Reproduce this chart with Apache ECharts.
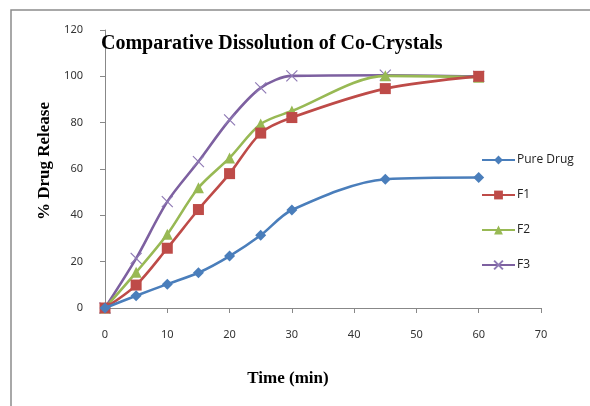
<!DOCTYPE html>
<html>
<head>
<meta charset="utf-8">
<script src="https://cdn.jsdelivr.net/npm/echarts@6/dist/echarts.min.js"></script>
<style>
  html, body { margin: 0; padding: 0; background: #fff; }
  #chart { width: 590px; height: 406px; }
</style>
</head>
<body>
<div id="chart"></div>
<script>
// Sampling times (min) and cumulative % drug release for each formulation
const times = [0, 5, 10, 15, 20, 25, 30, 45, 60];
const pureDrug = [0, 5.3, 10.3, 15.2, 22.4, 31.4, 42.3, 55.6, 56.3];
const f1 = [0, 9.9, 25.8, 42.5, 58.0, 75.5, 82.2, 94.7, 100];
const f2 = [0, 15.4, 31.8, 51.9, 64.8, 79.4, 85.0, 100.2, 99.6];
const f3 = [0, 21.4, 45.9, 63.2, 81.2, 95.0, 100.2, 100.5, 100];
const seriesNames = ['Pure Drug', 'F1', 'F2', 'F3'];
const xTicks = { min: 0, max: 70, step: 10 };
const yTicks = { min: 0, max: 120, step: 20 };

const colors = ['#4a7ebb', '#be4b48', '#98b954', '#7d60a0'];
const crossPath = 'path://M0,0L10,10M10,0L0,10';

function pairs(ys) { return times.map((t, i) => [t, ys[i]]); }

const values = [pureDrug, f1, f2, f3];
const symbols = ['diamond', 'rect', 'triangle', crossPath];
const sizes = [11, 11, 11, 11];

const series = values.map((ys, i) => ({
  name: seriesNames[i],
  type: 'line',
  data: pairs(ys),
  smooth: 0.3,
  symbol: symbols[i],
  symbolSize: sizes[i],
  showAllSymbol: true,
  z: 2 + (3 - i),
  lineStyle: { color: colors[i], width: 2.6 },
  itemStyle: i === 3
    ? { color: 'rgba(0,0,0,0)', borderColor: '#8f7ab5', borderWidth: 1.2 }
    : { color: colors[i], borderColor: colors[i], borderWidth: 0 }
}));

const chart = echarts.init(document.getElementById('chart'), null, { renderer: 'canvas' });
chart.setOption({
  animation: false,
  backgroundColor: '#fff',
  color: colors,
  graphic: [{
    type: 'rect',
    shape: { x: 11, y: 10, width: 620, height: 440 },
    style: { fill: 'none', stroke: '#8c8c8c', lineWidth: 1.5 },
    silent: true
  }],
  title: {
    text: 'Comparative Dissolution of Co-Crystals',
    left: 96,
    top: 29,
    textStyle: {
      fontFamily: 'Liberation Serif',
      fontWeight: 'bold',
      fontSize: 20,
      color: '#000'
    }
  },
  legend: {
    orient: 'vertical',
    left: 476,
    top: 149,
    itemWidth: 33,
    itemHeight: 11,
    itemGap: 23,
    data: seriesNames,
    textStyle: { fontFamily: 'Open Sans', fontSize: 12, color: '#222', padding: [0, 0, 0, -3] }
  },
  grid: { left: 105, right: 49, top: 30, bottom: 98, containLabel: false },
  xAxis: {
    type: 'value',
    min: xTicks.min,
    max: xTicks.max,
    interval: xTicks.step,
    name: 'Time (min)',
    nameLocation: 'middle',
    nameGap: 62,
    nameTextStyle: {
      fontFamily: 'Liberation Serif',
      fontWeight: 'bold',
      fontSize: 17,
      color: '#000',
      padding: [0, 70, 0, 0]
    },
    axisLine: { show: true, lineStyle: { color: '#888', width: 1 } },
    axisTick: { show: true, inside: false, length: 5, lineStyle: { color: '#888' } },
    axisLabel: { fontFamily: 'Noto Sans', fontSize: 11, color: '#333', margin: 21 },
    splitLine: { show: false }
  },
  yAxis: {
    type: 'value',
    min: yTicks.min,
    max: yTicks.max,
    interval: yTicks.step,
    name: '% Drug Release',
    nameLocation: 'middle',
    nameGap: 52,
    nameTextStyle: {
      fontFamily: 'Liberation Serif',
      fontWeight: 'bold',
      fontSize: 17,
      color: '#000',
      padding: [0, 0, 0, 16]
    },
    axisLine: { show: true, lineStyle: { color: '#888', width: 1 } },
    axisTick: { show: true, inside: false, length: 5, lineStyle: { color: '#888' } },
    axisLabel: { fontFamily: 'Noto Sans', fontSize: 11, color: '#333', margin: 22 },
    splitLine: { show: false }
  },
  series: series
});
</script>
</body>
</html>
